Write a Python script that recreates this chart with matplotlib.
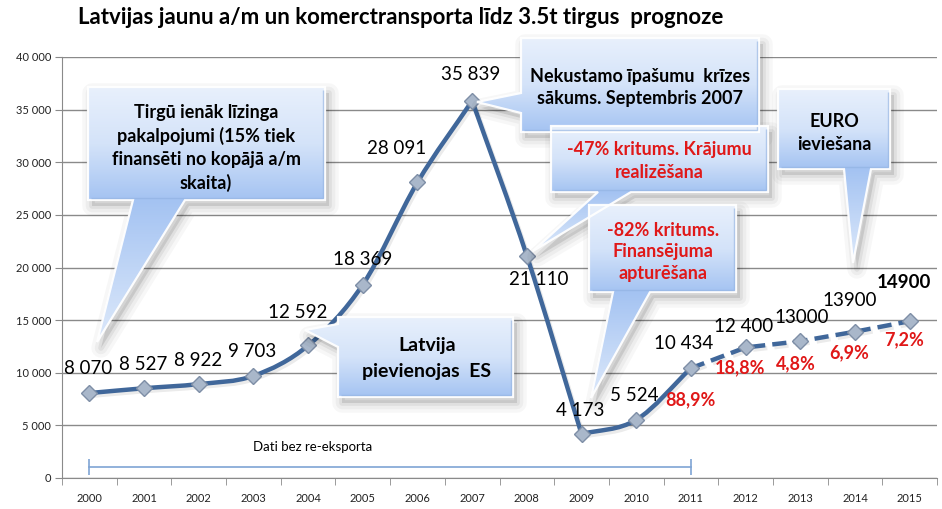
import numpy as np
import matplotlib
matplotlib.use("Agg")
import matplotlib.pyplot as plt
from matplotlib.path import Path
from matplotlib.patches import Polygon, PathPatch
from matplotlib.colors import LinearSegmentedColormap
import matplotlib.patheffects as pe

# ---------------- data ----------------
years = [2000, 2001, 2002, 2003, 2004, 2005, 2006, 2007,
         2008, 2009, 2010, 2011, 2012, 2013, 2014, 2015]
values = [8070, 8527, 8922, 9703, 12592, 18369, 28091, 35839,
          21110, 4173, 5524, 10434, 12400, 13000, 13900, 14900]
last_actual_year = 2011
growth_years = [2011, 2012, 2013, 2014, 2015]
growth_labels = ["88,9%", "18,8%", "4,8%", "6,9%", "7,2%"]
y_ticks = [0, 5000, 10000, 15000, 20000, 25000, 30000, 35000, 40000]
span_years = [2000, 2011]
span_label = "Dati bez re-eksporta"
title = "Latvijas jaunu a/m un komerctransporta līdz 3.5t tirgus  prognoze"

FONT = "Lato"
W, H = 942, 509
fig = plt.figure(figsize=(W / 100, H / 100), dpi=100)
fig.patch.set_facecolor("white")
ax = fig.add_axes([62 / W, 1 - 478 / H, (937 - 62) / W, (478 - 57) / H])

x = np.arange(len(years))
vals = np.array(values, dtype=float)
n_act = years.index(last_actual_year) + 1

ax.set_xlim(-0.5, len(years) - 0.5)
ax.set_ylim(0, 40000)

# grid
ax.set_yticks(y_ticks)
ax.set_yticklabels([f"{t:,}".replace(",", " ") for t in y_ticks],
                   fontsize=8, family=FONT, color="#222222")
ax.yaxis.grid(True, color="#8a8a8a", lw=1.0)
ax.set_axisbelow(True)
ax.set_xticks(x)
ax.set_xticklabels([str(y) for y in years], fontsize=8, family=FONT, color="#222222")
ax.set_xticks(np.arange(-0.5, len(years) - 0.4, 1), minor=True)
ax.tick_params(axis="x", which="major", length=0, pad=11)
ax.tick_params(axis="x", which="minor", length=5, color="#8a8a8a", direction="out")
ax.tick_params(axis="y", length=5, color="#8a8a8a", direction="out", pad=3)
for s in ["top", "right"]:
    ax.spines[s].set_visible(False)
for s in ["left", "bottom"]:
    ax.spines[s].set_color("#8a8a8a")

LINE = "#40679a"
# smoothed actual series (Bezier through the data points, sharp at extrema)
px, py = x[:n_act].astype(float), vals[:n_act]
verts = [(px[0], py[0])]
codes = [Path.MOVETO]

def tangent(i):
    if i == 0 or i == n_act - 1:
        return None
    if (py[i] - py[i - 1]) * (py[i + 1] - py[i]) < 0:
        return None
    return np.array([(px[i + 1] - px[i - 1]) / 2, (py[i + 1] - py[i - 1]) / 2])

for i in range(n_act - 1):
    p0 = np.array([px[i], py[i]]); p1 = np.array([px[i + 1], py[i + 1]])
    t0 = tangent(i); t1 = tangent(i + 1)
    c1 = p0 + (t0 / 3 if t0 is not None else (p1 - p0) / 3)
    c2 = p1 - (t1 / 3 if t1 is not None else (p1 - p0) / 3)
    verts += [tuple(c1), tuple(c2), tuple(p1)]
    codes += [Path.CURVE4] * 3
shadow = [pe.SimpleLineShadow(offset=(1.5, -2), alpha=0.08, shadow_color="black"), pe.Normal()]
ax.add_patch(PathPatch(Path(verts, codes), fill=False, edgecolor=LINE, lw=3.2,
                       capstyle="round", joinstyle="round", zorder=3, path_effects=shadow))
ax.plot(x[n_act - 1:], vals[n_act - 1:], color=LINE, lw=3.2, ls=(0, (3.2, 1.6)),
        zorder=3, path_effects=shadow)
ax.plot(x, vals, ls="none", marker="D", ms=8, mfc="#a9b7ca", mec="#7e8ea6",
        mew=1.0, zorder=4)

# value labels
label_offsets = [(-1, 25), (-1, 24), (-1, 24), (-1, 24), (-10, 33), (0, 25), (-21, 34), (-2, 26),
                 (12, -24), (-1, 24), (-2, 24), (-7, 25), (-2, 21), (1, 24), (-5, 31), (-6, 39)]
for i, v in enumerate(values):
    lab = f"{v:,}".replace(",", " ") if years[i] <= 2012 else str(v)
    bold = i == len(values) - 1
    dx, dy = label_offsets[i]
    ax.annotate(lab, (x[i], v), xytext=(dx * 0.72, dy * 0.72), textcoords="offset points",
                ha="center", va="center", fontsize=13.5, family=FONT,
                fontweight="bold" if bold else "normal", color="black", zorder=6)

growth_offsets = [(0, -32), (-6, -20), (-4, -23), (-6, -21), (-6, -19)]
for gy, gl, (dx, dy) in zip(growth_years, growth_labels, growth_offsets):
    i = years.index(gy)
    ax.annotate(gl, (x[i], values[i]), xytext=(dx * 0.72, dy * 0.72), textcoords="offset points",
                ha="center", va="center", fontsize=13, family=FONT, fontweight="bold",
                color="#e01818", zorder=6)

# span marker "Dati bez re-eksporta"
i0, i1 = years.index(span_years[0]), years.index(span_years[1])
ax.plot([x[i0], x[i1]], [1050, 1050], color="#7fa4d4", lw=1.2, zorder=2)
ax.plot([x[i0], x[i1]], [1050, 1050], ls="none", marker="|", ms=12, mew=1.2,
        color="#7fa4d4", zorder=2)
ax.text(4.09, 2950, span_label, ha="center", va="center", fontsize=9.5, family=FONT, color="black")

fig.text(78 / W, 1 - 17 / H, title, ha="left", va="center", fontsize=16,
         fontweight="bold", family=FONT, color="black")

# ---------------- callouts (overlay in pixel coords) ----------------
ov = fig.add_axes([0, 0, 1, 1], zorder=5)
ov.set_xlim(0, W); ov.set_ylim(H, 0); ov.axis("off"); ov.patch.set_alpha(0)
cmap = LinearSegmentedColormap.from_list("cb", ["#e8f0fc", "#d4e3f9", "#a4c3f2"])

callouts = [
    dict(rect=(88, 87, 325, 200), side="bottom", base=(133, 185), tip=(97, 342),
         lines=["Tirgū ienāk līzinga", "pakalpojumi (15% tiek", "finansēti no kopājā a/m", "skaita)"],
         ly=[112, 136, 160, 183], cx=206, color="black", fs=13),
    dict(rect=(521, 38, 759, 132), side="left", base=(93, 113), tip=(477, 102),
         lines=["Nekustamo īpašumu  krīzes", "sākums. Septembris 2007"],
         ly=[76, 98], cx=640, color="black", fs=13),
    dict(rect=(551, 126, 768, 192), side="bottom", base=(598, 631), tip=(533, 251),
         lines=["-47% kritums. Krājumu", "realizēšana"],
         ly=[150, 173], cx=659, color="#e01818", fs=13),
    dict(rect=(589, 205, 736, 292), side="bottom", base=(613, 650), tip=(591, 398),
         lines=["-82% kritums.", "Finansējuma", "apturēšana"],
         ly=[231, 252, 273], cx=663, color="#e01818", fs=13),
    dict(rect=(778, 89, 890, 169), side="bottom", base=(844, 871), tip=(853, 263),
         lines=["EURO", "ieviešana"],
         ly=[121, 144], cx=834, color="black", fs=13),
    dict(rect=(338, 317, 513, 397), side="left", base=(324, 347), tip=(305, 330),
         lines=["Latvija", "pievienojas  ES"],
         ly=[345, 372], cx=427, color="black", fs=14),
]

for c in callouts:
    x0, y0, x1, y1 = c["rect"]
    b1, b2 = c["base"]
    tx, ty = c["tip"]
    if c["side"] == "bottom":
        poly = [(x0, y0), (x1, y0), (x1, y1), (b2, y1), (tx, ty), (b1, y1), (x0, y1)]
    else:
        poly = [(x0, y0), (x1, y0), (x1, y1), (x0, y1), (x0, b2), (tx, ty), (x0, b1)]
    poly = np.array(poly, dtype=float)
    # soft shadow
    for lw, a in [(14, 0.03), (9, 0.04), (4, 0.06)]:
        ov.add_patch(Polygon(poly + [4, 6], closed=True, facecolor="none", zorder=1,
                             edgecolor="black", alpha=a, lw=lw, joinstyle="round"))
    ov.add_patch(Polygon(poly + [4, 6], closed=True, facecolor="black", alpha=0.10, lw=0, zorder=1))
    # gradient fill
    patch = Polygon(poly, closed=True, facecolor="none", edgecolor="none", zorder=2)
    ov.add_patch(patch)
    bx0, by0 = poly.min(axis=0); bx1, by1 = poly.max(axis=0)
    yy = np.linspace(by0, by1, 200)
    t = np.clip((yy - y0) / (y1 - y0), 0, 1)
    if c["side"] == "bottom":
        t = np.where(yy > y1, np.clip(1 - (yy - y1) / (ty - y1) * 0.6, 0, 1), t)
    im = ov.imshow(t[:, None], cmap=cmap, vmin=0, vmax=1, aspect="auto", zorder=2,
                   extent=(bx0, bx1, by1, by0), origin="upper", interpolation="bilinear")
    im.set_clip_path(patch)
    ov.add_patch(Polygon(poly, closed=True, facecolor="none", edgecolor="white",
                         lw=1.6, alpha=0.95, zorder=3))
    ov.add_patch(Polygon([(x0 + 3, y1 - 2), (x1 - 2, y1 - 2), (x1 - 2, y0 + 3)], closed=False,
                         facecolor="none", edgecolor="#8fb0e0", lw=1.0, alpha=0.6, zorder=3))
    for line, ly in zip(c["lines"], c["ly"]):
        ov.text(c["cx"], ly, line, ha="center", va="center", fontsize=c["fs"], zorder=4,
                fontweight="bold", family=FONT, color=c["color"])

ov.set_xlim(0, W); ov.set_ylim(H, 0)
fig.savefig("out.png", dpi=100, facecolor="white")
